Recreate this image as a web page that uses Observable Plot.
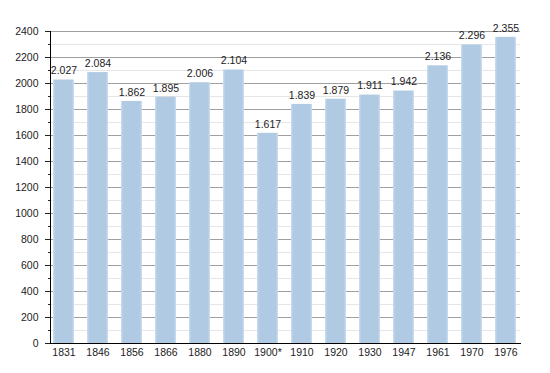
<!DOCTYPE html>
<html><head><meta charset="utf-8">
<script src="https://cdn.jsdelivr.net/npm/d3@7"></script>
<script src="https://cdn.jsdelivr.net/npm/@observablehq/plot@0.6"></script>
<style>
body{margin:0;background:#fff;}
svg{font-family:"Liberation Sans",Arial,sans-serif;}
</style></head>
<body><div id="chart"></div>
<script>
const years = ["1831","1846","1856","1866","1880","1890","1900*","1910","1920","1930","1947","1961","1970","1976"];
const population = [2027,2084,1862,1895,2006,2104,1617,1839,1879,1911,1942,2136,2296,2355];
const majorTicks = d3.range(0, 2401, 200);
const minorTicks = d3.range(100, 2400, 200);

const data = years.map((y, i) => ({year: y, pop: population[i]}));
const fmt = v => d3.format(",")(v).replace(/,/g, ".");

const gradDefs = () => {
  const svg = d3.create("svg:defs");
  const g = svg.append("linearGradient").attr("id", "barGrad").attr("x1", "0").attr("x2", "1").attr("y1", "0").attr("y2", "0");
  g.append("stop").attr("offset", "0%").attr("stop-color", "#cddff0");
  g.append("stop").attr("offset", "10%").attr("stop-color", "#b1cae4");
  g.append("stop").attr("offset", "90%").attr("stop-color", "#b1cae4");
  g.append("stop").attr("offset", "100%").attr("stop-color", "#cddff0");
  return svg.node();
};

const chart = Plot.plot({
  width: 550,
  height: 373,
  marginLeft: 50,
  marginRight: 30,
  marginTop: 31,
  marginBottom: 30,
  style: {fontSize: "10.5px", fontFamily: "'Liberation Sans', Arial, sans-serif", color: "#222", background: "#fff"},
  x: {domain: years, range: [43.25, 526.25], paddingInner: 0.39, paddingOuter: 0.195, label: null},
  y: {domain: [0, 2400], label: null},
  marks: [
    gradDefs,
    Plot.gridY(minorTicks, {stroke: "#e6e6e6", strokeOpacity: 1}),
    Plot.gridY(majorTicks, {stroke: "#a0a0a0", strokeOpacity: 1}),
    Plot.barY(data, {x: "year", y: "pop", fill: "url(#barGrad)"}),
    Plot.text(data, {x: "year", y: "pop", text: d => fmt(d.pop), dy: -9, fill: "#222", fontSize: 10.5}),
    Plot.axisY(majorTicks, {tickSize: 5, tickPadding: 7, tickFormat: d => String(d), label: null}),
    Plot.axisY(minorTicks, {tickSize: 2, text: null, label: null}),
    Plot.axisX({tickSize: 0, tickPadding: 5, label: null}),
    Plot.frame({anchor: "left", stroke: "#000"}),
    Plot.frame({anchor: "bottom", stroke: "#000"})
  ]
});
document.getElementById("chart").appendChild(chart);
</script>
</body></html>
